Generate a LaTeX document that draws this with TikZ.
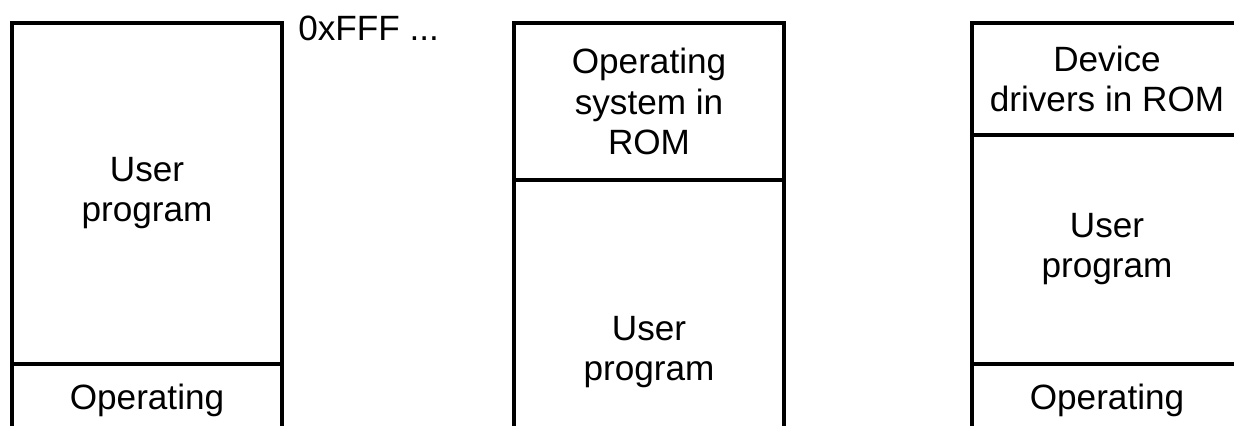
\documentclass[tikz,border=0pt]{standalone}
\usepackage{fontspec}
\setmainfont{Liberation Sans}
\usepackage{tikz}
\usetikzlibrary{positioning}

\begin{document}
\begin{tikzpicture}[node distance=0pt,
    region/.style={draw,line width=2.4pt,outer sep=0pt,minimum width=6.75cm,
                   align=center,font=\fontsize{25}{28.5}\selectfont},
    addr/.style={inner sep=0pt,font=\fontsize{25}{28.5}\selectfont}]
    \useasboundingbox (0,0) rectangle (30.85,-10.65);
    \clip (0,0) rectangle (30.85,-10.65);

    % (a) OS in RAM at the bottom
    \node[region,minimum height=8.525cm,anchor=north west] (user1) at (0.3,-0.575) {User\\program};
    \node[region,minimum height=1.8cm,below=of user1] (os1) {Operating};
    \node[addr,anchor=west] (top1) at (7.45,-0.72) {0xFFF ...};

    % (b) OS in ROM at the top
    \node[region,minimum height=3.925cm,anchor=north west] (rom2) at (12.85,-0.575) {Operating\\system in\\ROM};
    \node[region,minimum height=8.6cm,below=of rom2] (user2) {User\\program};

    % (c) drivers in ROM, OS in RAM
    \node[region,minimum height=2.8cm,anchor=north west] (rom3) at (24.3,-0.575) {Device\\drivers in ROM};
    \node[region,minimum height=5.725cm,below=of rom3] (user3) {User\\program};
    \node[region,minimum height=1.8cm,below=of user3] (os3) {Operating};
\end{tikzpicture}
\end{document}
